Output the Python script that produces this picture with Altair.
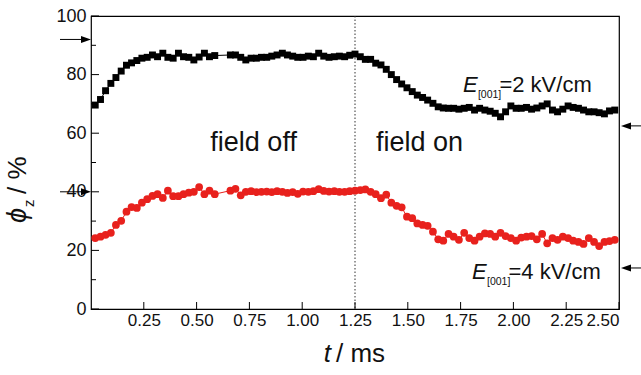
import altair as alt
import pandas as pd

# ---------------- data ----------------
t_ms = [0.020, 0.045, 0.069, 0.094, 0.118, 0.143, 0.168, 0.192, 0.217, 0.241,
        0.266, 0.291, 0.315, 0.340, 0.364, 0.389, 0.414, 0.438, 0.463, 0.487,
        0.512, 0.537, 0.561, 0.586, 0.610, 0.635, 0.660, 0.684, 0.709, 0.733,
        0.758, 0.783, 0.807, 0.832, 0.856, 0.881, 0.906, 0.930, 0.955, 0.979,
        1.004, 1.029, 1.053, 1.078, 1.102, 1.127, 1.152, 1.176, 1.201, 1.225,
        1.250, 1.275, 1.299, 1.324, 1.348, 1.373, 1.398, 1.422, 1.447, 1.471,
        1.496, 1.521, 1.545, 1.570, 1.594, 1.619, 1.644, 1.668, 1.693, 1.717,
        1.742, 1.767, 1.791, 1.816, 1.840, 1.865, 1.890, 1.914, 1.939, 1.963,
        1.988, 2.013, 2.037, 2.062, 2.086, 2.111, 2.136, 2.160, 2.185, 2.209,
        2.234, 2.259, 2.283, 2.308, 2.332, 2.357, 2.382, 2.406, 2.431, 2.455,
        2.480]

phi_2kv = [69.6, 71.5, 74.5, 77.0, 79.0, 81.2, 83.2, 84.0, 84.8, 85.6,
           85.9, 86.7, 86.1, 87.3, 85.9, 85.6, 87.3, 86.1, 85.9, 85.0,
           86.0, 87.3, 86.1, 86.5, None, None, 86.7, 86.7, 85.9, 85.0,
           85.6, 85.6, 85.9, 85.9, 86.3, 86.7, 87.3, 86.7, 86.3, 85.9,
           85.9, 86.3, 86.1, 87.3, 86.3, 85.9, 86.1, 86.3, 86.1, 86.6,
           87.0, 86.1, 85.2, 85.2, 83.9, 83.3, 81.8, 80.0, 78.3, 76.8,
           75.5, 74.2, 73.0, 72.2, 71.3, 70.2, 69.0, 68.6, 68.5, 68.5,
           68.2, 68.5, 68.8, 67.9, 68.5, 67.9, 67.5, 66.8, 65.6, 67.3,
           69.3, 68.5, 68.5, 68.8, 68.2, 68.6, 69.3, 70.0, 67.9, 67.3,
           68.2, 69.3, 68.8, 68.5, 67.9, 67.3, 67.3, 67.0, 66.6, 67.6,
           67.9]

phi_4kv = [24.2, 24.7, 25.3, 26.0, 28.7, 30.1, 33.2, 34.8, 34.5, 36.3,
           37.5, 38.6, 39.2, 37.9, 40.4, 38.5, 38.5, 39.2, 39.7, 40.0,
           41.6, 39.2, 40.4, 39.2, None, None, 40.4, 41.0, 38.8, 40.0,
           40.2, 39.9, 40.0, 40.1, 39.9, 40.2, 40.0, 39.6, 39.9, 39.3,
           40.1, 40.0, 40.2, 40.9, 40.3, 40.1, 40.2, 40.0, 40.0, 40.2,
           40.4, 40.6, 40.8, 40.0, 39.2, 37.8, 39.0, 36.3, 35.2, 34.7,
           31.5, 31.0, 29.2, 28.7, 28.4, 26.4, 23.8, 23.3, 25.6, 24.7,
           23.6, 26.0, 24.2, 23.3, 24.7, 25.8, 25.6, 24.7, 26.0, 24.9,
           24.2, 23.3, 24.4, 24.7, 24.9, 23.8, 25.6, 22.4, 24.2, 23.6,
           24.7, 24.2, 23.3, 22.9, 22.2, 24.2, 22.9, 21.5, 22.9, 23.2,
           23.6]

x_label_values = [0.25, 0.50, 0.75, 1.00, 1.25, 1.50, 1.75, 2.00, 2.25, 2.50]
y_label_values = [0, 20, 40, 60, 80, 100]
y_minor_ticks = [10, 30, 50, 70, 90]
field_switch_t = [1.25]
left_arrow_levels = [92, 40]
right_arrow_levels = [62.5, 14]

# ---------------- tables ----------------
black_df = pd.DataFrame([{"t": t, "phi": v} for t, v in zip(t_ms, phi_2kv) if v is not None])
red_df = pd.DataFrame([{"t": t, "phi": v} for t, v in zip(t_ms, phi_4kv) if v is not None])
xt_df = pd.DataFrame({"t": x_label_values})
ymaj_df = pd.DataFrame({"v": y_label_values})
ymin_df = pd.DataFrame({"v": y_minor_ticks})
sw_df = pd.DataFrame({"t": field_switch_t})
la_df = pd.DataFrame({"v": left_arrow_levels})
ra_df = pd.DataFrame({"v": right_arrow_levels})

FONT = "Liberation Sans"
W, H = 528, 293
BLACK = "#000000"
RED = "#e8211d"

xs = alt.Scale(domain=[0, 2.5], nice=False, zero=False)
ys = alt.Scale(domain=[0, 100], nice=False)

x_axis = alt.Axis(values=x_label_values, format=".2f", ticks=False, domain=False,
                  grid=False, labelFont=FONT, labelFontSize=17, labelColor="#111",
                  labelPadding=3, title=None)
y_axis = alt.Axis(values=y_label_values, ticks=False, domain=False, grid=False,
                  labelFont=FONT, labelFontSize=18, labelColor="#111",
                  labelPadding=5, title=None)

X = lambda f: alt.X(f, type="quantitative", scale=xs, axis=x_axis)
Y = lambda f: alt.Y(f, type="quantitative", scale=ys, axis=y_axis)

black_line = alt.Chart(black_df).mark_line(color=BLACK, strokeWidth=1).encode(
    x=X("t"), y=Y("phi"), order="t:Q")
black_pts = alt.Chart(black_df).mark_point(shape="square", filled=True, color=BLACK,
                                           size=48, opacity=1).encode(x=X("t"), y=Y("phi"))
red_line = alt.Chart(red_df).mark_line(color=RED, strokeWidth=1).encode(
    x=X("t"), y=Y("phi"), order="t:Q")
red_pts = alt.Chart(red_df).mark_point(shape="circle", filled=True, color=RED,
                                       size=60, opacity=1).encode(x=X("t"), y=Y("phi"))

switch_line = alt.Chart(sw_df).mark_rule(color="#333", strokeWidth=1,
                                         strokeDash=[1.5, 2]).encode(
    x=X("t"), y=alt.value(0), y2=alt.value(H))

x_ticks = alt.Chart(xt_df).mark_rule(color=BLACK, strokeWidth=1).encode(
    x=X("t"), y=alt.value(H), y2=alt.value(H - 7))
y_major = alt.Chart(ymaj_df).mark_rule(color=BLACK, strokeWidth=1).encode(
    y=Y("v"), x=alt.value(0), x2=alt.value(8))
y_minor = alt.Chart(ymin_df).mark_rule(color=BLACK, strokeWidth=1).encode(
    y=Y("v"), x=alt.value(0), x2=alt.value(5))

# arrows outside the frame
la_line = alt.Chart(la_df).mark_rule(color=BLACK, strokeWidth=1, clip=False).encode(
    y=Y("v"), x=alt.value(-31), x2=alt.value(-4))
la_head = alt.Chart(la_df).mark_point(shape="M -1 -0.7 L 1 0 L -1 0.7 Z", filled=True,
                                      color=BLACK, size=100, opacity=1, clip=False).encode(
    y=Y("v"), x=alt.value(-5))
ra_line = alt.Chart(ra_df).mark_rule(color=BLACK, strokeWidth=1, clip=False).encode(
    y=Y("v"), x=alt.value(W + 6), x2=alt.value(W + 30))
ra_head = alt.Chart(ra_df).mark_point(shape="M 1 -0.7 L -1 0 L 1 0.7 Z", filled=True,
                                      color=BLACK, size=100, opacity=1, clip=False).encode(
    y=Y("v"), x=alt.value(W + 7))

# annotations
def txt(text, x, y, size, align="left", baseline="alphabetic", style="normal",
        dx=0, dy=0, angle=0):
    kw = dict(text=text, font=FONT, fontSize=size, align=align, baseline=baseline,
              fontStyle=style, dx=dx, dy=dy, color="#111", clip=False)
    if angle:
        kw["angle"] = angle
    return alt.Chart(pd.DataFrame({"a": [0]})).mark_text(**kw).encode(x=x, y=y)

field_off = txt("field off", alt.datum(0.77, type="quantitative", scale=xs),
                alt.datum(56.7, type="quantitative", scale=ys), 27,
                align="center", baseline="middle")
field_on = txt("field on", alt.datum(1.555, type="quantitative", scale=xs),
               alt.datum(56.7, type="quantitative", scale=ys), 27,
               align="center", baseline="middle")

def e_label(t, v, rest):
    xd = alt.datum(t, type="quantitative", scale=xs)
    yd = alt.datum(v, type="quantitative", scale=ys)
    return [txt("E", xd, yd, 22, style="italic"),
            txt("[001]", xd, yd, 10.5, dx=15, dy=6),
            txt(rest, xd, yd, 22, dx=36.5)]

e2 = e_label(1.761, 74.1, "=2 kV/cm")
e4 = e_label(1.804, 10.1, "=4 kV/cm")

# axis titles (mixed italic / subscript)
xt_t = txt("t", alt.value(240), alt.value(346), 26, align="right", style="italic")
xt_rest = txt("/ ms", alt.value(245), alt.value(346), 26, align="left")

yt_phi = txt("\u03d5", alt.value(-65), alt.value(207), 27, align="left",
             style="italic", angle=270)
yt_z = txt("z", alt.value(-57), alt.value(191), 15, align="left", angle=270)
yt_rest = txt("/ %", alt.value(-65), alt.value(178), 26, align="left", angle=270)

chart = alt.layer(
    switch_line, x_ticks, y_major, y_minor,
    black_line, black_pts, red_line, red_pts,
    la_line, la_head, ra_line, ra_head,
    field_off, field_on, *e2, *e4,
    xt_t, xt_rest, yt_phi, yt_z, yt_rest,
).properties(
    width=W, height=H,
    padding={"left": 91, "top": 16, "right": 22, "bottom": 66},
    autosize=alt.AutoSizeParams(type="none"),
    background="white",
).configure_view(stroke=BLACK, strokeWidth=1.2)

chart.save("out.html", embed_options={"renderer": "svg", "actions": False})
